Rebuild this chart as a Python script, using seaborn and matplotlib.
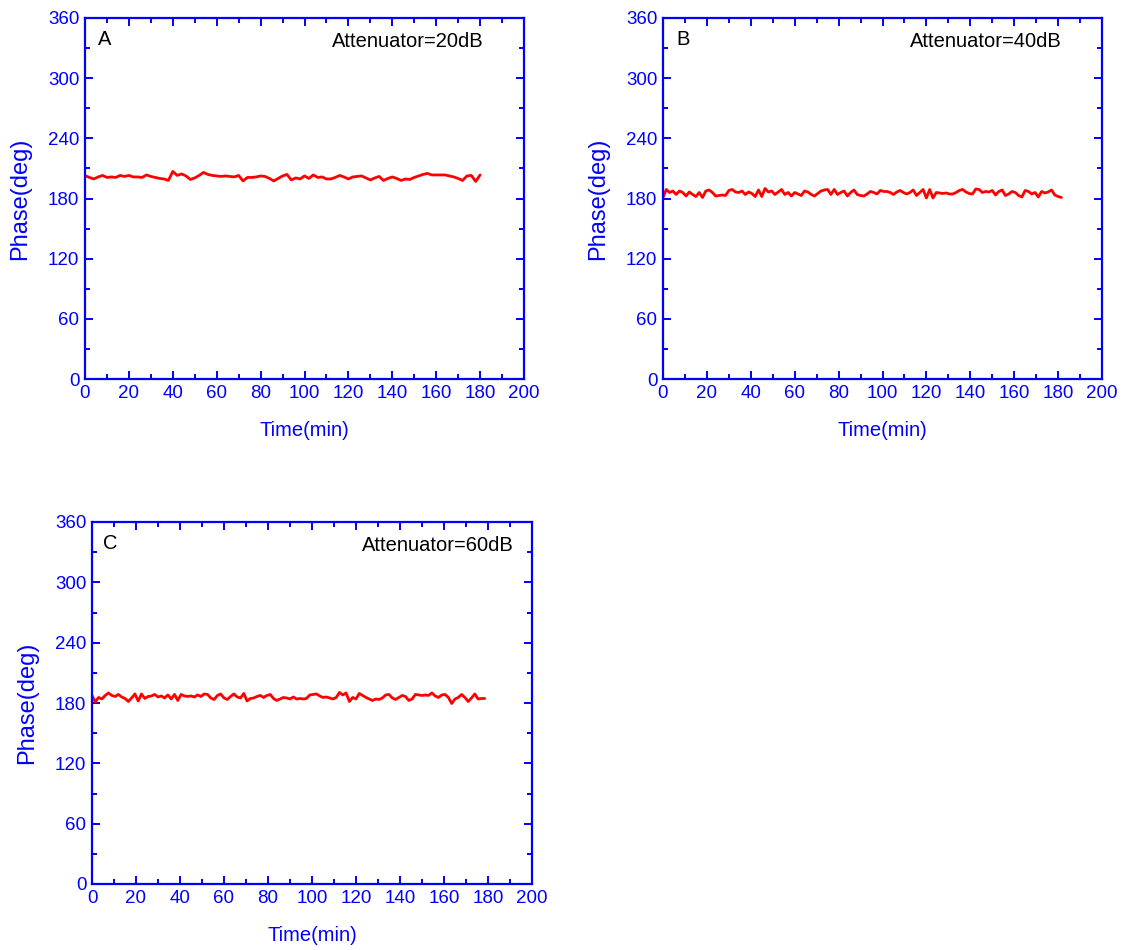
import numpy as np
import pandas as pd
import matplotlib
matplotlib.use("Agg")
import matplotlib.pyplot as plt
from matplotlib.ticker import MultipleLocator
import seaborn as sns

# ---------------- data ----------------
time_a = np.arange(0, 182, 2.0)           # minutes
phase_a = [202.8, 201, 199.5, 201.5, 203, 201, 201.5, 201, 203, 202,
           203, 201.5, 201.5, 201, 203.5, 202, 201, 200, 199.5, 198,
           207, 203, 204.5, 202.5, 199, 200.5, 203, 206, 204, 203,
           202.5, 202, 202.5, 202, 201.5, 203, 197.5, 201, 201, 201.5,
           202.5, 202, 200, 197.5, 200, 202.5,
           204, 198.5, 200.5, 199.5, 202.5, 200, 203.5, 201, 201.5, 199.5,
           199.5, 201, 203, 201.5, 199.5, 201.5, 202, 202.5, 200.5, 198.5,
           200.5, 202, 198, 200, 201.5, 200, 198, 199.5, 199, 201,
           202.5, 204, 205, 203.5, 203.5, 203.5, 203.5, 202.5, 201.5, 200,
           198, 202.5, 203, 197, 203.5]

time_b = np.arange(0, 182, 1.5)
phase_b = [181, 189, 186, 187.5, 184, 187.5, 186, 182.5, 186.5, 184,
           182, 186, 181, 187.5, 188.5, 186, 182.5, 183, 183.5, 183,
           188, 189, 186.5, 186, 187.5, 184, 186.5, 185, 182, 188.5,
           182, 190, 186.5, 187.5, 184, 186.5, 189, 184, 186, 182.5,
           186, 184.5, 183, 187.5, 186.5, 184, 182.5, 185, 187.5, 188.5,
           189, 184, 189, 184, 186, 187.5, 182.5, 186, 188.5, 184, 183,
           182.5, 184.5, 187, 186, 184.5, 188, 187, 187, 186, 184,
           186.5, 188, 186, 184.5, 186, 188.5, 183, 186, 189, 180.5,
           189, 180.5, 186, 185.5, 185, 185.5, 184.5, 184.5, 186, 188,
           189, 186.5, 185, 184.5, 189.5, 189, 186, 187, 186.5, 188,
           183.5, 187, 188.5, 183, 184.5, 187, 186, 183, 181.5, 188,
           187, 184.5, 186, 181.5, 187, 185.5, 186.5, 188.5, 183.5, 182, 181]

time_c = np.arange(0, 180, 1.5)
phase_c = [187.5, 181, 185.5, 184, 187.5, 190, 187.5, 186.5, 188.5, 186,
           184.5, 181.5, 185, 189, 182, 189, 184.5, 186.5, 187, 188.5,
           186, 187, 185, 188, 184, 188.5, 182.5, 188.5, 187, 186.5,
           187, 186, 188, 186.5, 189, 188.5, 185, 183.5, 187.5, 189,
           185, 183.5, 186.5, 189, 186, 185, 189.5, 182, 184.5, 185,
           186.5, 187.5, 185.5, 187.5, 188.5, 184.5, 182.5, 184, 185.5, 185, 184,
           186, 184, 184.5, 184, 184.5, 188, 188.5, 189, 187, 185.5,
           186, 185, 184, 185.5, 190.5, 188, 190, 181.5, 185.5, 184,
           189.5, 187.5, 185.5, 184, 182.5, 184, 183.5, 185, 188, 188.5,
           185, 183.5, 185.5, 187.5, 186.5, 182.5, 184, 188.5, 188, 187.5,
           188, 187.5, 190, 187, 185.5, 188, 188.5, 185.5, 179.5, 184,
           185.5, 188.5, 185.5, 181.5, 185, 189, 184, 184.5, 184.5]

panel_letters = ["A", "B", "C"]
attenuator_labels = ["Attenuator=20dB", "Attenuator=40dB", "Attenuator=60dB"]
x_label = "Time(min)"
y_label = "Phase(deg)"

# ---------------- style ----------------
sns.set_theme(style="ticks")
plt.rcParams["font.family"] = ["Liberation Sans", "DejaVu Sans"]
BLUE = "#0000FF"
RED = "#FF0000"

fig = plt.figure(figsize=(11.28, 9.5), dpi=100)
W, H = 1128, 950

def px_axes(left, right, top, bottom):
    return fig.add_axes([left / W, 1 - bottom / H, (right - left) / W, (bottom - top) / H])

axes = [px_axes(85, 524, 18, 379),
        px_axes(663, 1102, 18, 379),
        px_axes(92, 532, 522, 884)]

series = [(time_a, phase_a), (time_b, phase_b), (time_c, phase_c)]
label_pos = [(0.03, 0.94), (0.03, 0.94), (0.025, 0.94)]
att_pos = [(0.563, 0.934), (0.563, 0.934), (0.614, 0.934)]

for i, ax in enumerate(axes):
    t, p = series[i]
    df = pd.DataFrame({"time": t, "phase": p})
    sns.lineplot(data=df, x="time", y="phase", ax=ax, color=RED,
                 linewidth=2.0, estimator=None, sort=False)
    ax.set_xlim(0, 200)
    ax.set_ylim(0, 360)
    ax.xaxis.set_major_locator(MultipleLocator(20))
    ax.xaxis.set_minor_locator(MultipleLocator(10))
    ax.yaxis.set_major_locator(MultipleLocator(60))
    ax.yaxis.set_minor_locator(MultipleLocator(30))
    for sp in ax.spines.values():
        sp.set_visible(True)
        sp.set_color(BLUE)
        sp.set_linewidth(1.6)
    ax.tick_params(which="both", direction="in", color=BLUE, width=1.4,
                   top=True, right=True, labelcolor=BLUE, labelsize=13.5, pad=4)
    ax.tick_params(which="major", length=6)
    ax.tick_params(which="minor", length=3.5)
    ax.set_xlabel(x_label, color=BLUE, fontsize=14.5, labelpad=14)
    ax.set_ylabel(y_label, color=BLUE, fontsize=17, labelpad=12)
    ax.text(*label_pos[i], panel_letters[i], transform=ax.transAxes,
            fontsize=14.5, color="black", ha="left", va="center")
    ax.text(*att_pos[i], attenuator_labels[i], transform=ax.transAxes,
            fontsize=14.5, color="black", ha="left", va="center")
    ax.set_facecolor("white")

fig.savefig("out.png", dpi=100, facecolor="white")
